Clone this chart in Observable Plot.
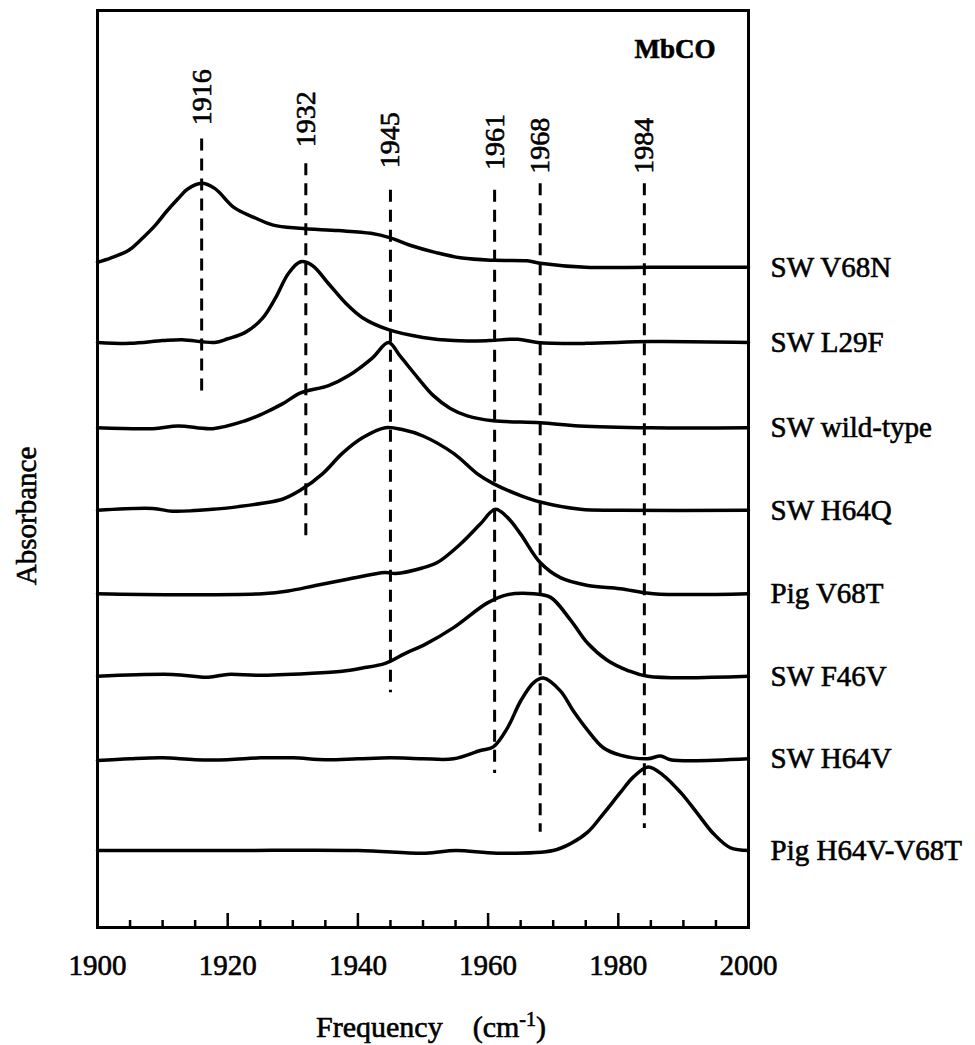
<!DOCTYPE html>
<html><head><meta charset="utf-8">
<script src="https://cdn.jsdelivr.net/npm/d3@7"></script>
<script src="https://cdn.jsdelivr.net/npm/@observablehq/plot@0.6"></script>
<style>html,body{margin:0;padding:0;background:#fff;overflow:hidden} svg{display:block} svg text{stroke:#000;stroke-width:0.6px}</style>
</head><body><div id="chart"></div>
<script>
// ---- data (frequency in cm-1, absorbance in arbitrary units above each trace's baseline) ----
const seriesNames = ["SW V68N","SW L29F","SW wild-type","SW H64Q","Pig V68T","SW F46V","SW H64V","Pig H64V-V68T"];
const offsets = [72.0, 63.8, 54.5, 45.5, 36.4, 27.4, 18.4, 8.4];

const fV68N = [1900,1902,1904.8,1906.5,1908.9,1910.5,1912.4,1913.8,1916,1918,1921,1924,1927,1931,1937,1942,1945,1948,1952,1956,1961,1966,1968,1975,1985,2000];
const aV68N = [0.55,1.0,1.85,2.9,4.6,6.0,7.5,8.5,9.16,8.6,6.5,5.45,4.6,4.25,4.0,3.7,3.2,2.4,1.6,1.0,0.76,0.7,0.44,0,0,0];

const fL29F = [1900,1905,1910,1913,1918,1920,1922.7,1925.3,1927.3,1929.3,1931.2,1933,1935.5,1938.1,1940.7,1944.7,1950,1954.7,1960,1964.5,1967.6,1975,1985,2000];
const aL29F = [0,-0.1,0.2,0.3,0,0.4,1.1,2.6,4.8,7.5,8.8,8.4,6.4,4.3,2.7,1.4,0.55,0.2,0.2,0.35,0,-0.1,0.1,0];

const fWT = [1900,1908.5,1912.4,1917.7,1922.7,1925.3,1928.4,1931.2,1935.5,1938.6,1942.2,1944.7,1946.5,1949.2,1951.6,1954.2,1956.8,1960.8,1968,1974,1985,2000];
const aWT = [0,-0.1,0.2,-0.1,0.76,1.5,2.6,3.8,4.6,5.7,7.6,9.3,7.8,5.45,3.5,2.1,1.3,0.76,0.55,0.2,0,0];

const fH64Q = [1900,1908.5,1911.5,1917.7,1921.7,1925.3,1928.4,1931.2,1934.6,1937.6,1940.7,1944.2,1946.8,1950,1954.7,1958.3,1960.8,1965,1968,1974.2,1980,2000];
const aH64Q = [0,0.2,-0.1,0.1,0.4,0.76,1.2,2.2,4.0,6.2,7.9,9.0,8.8,8.1,6.2,4.0,2.9,1.6,0.9,0.1,0,0];

const fV68T = [1900,1911.5,1925.3,1929.3,1933.5,1938.6,1944.2,1945.8,1949.9,1952.2,1955.8,1958.8,1961.1,1963,1965,1968,1971.1,1975.3,1980.3,1985.4,2000];
const aV68T = [0,-0.1,0,0.3,0.9,1.6,2.3,2.2,2.8,3.4,5.45,7.6,9.2,8.3,6.5,3.4,1.75,0.9,0.55,0,0];

const fF46V = [1900,1911.5,1917,1920,1924.7,1932.4,1937.6,1940.7,1944.2,1947.3,1950.4,1954.7,1959.9,1963,1967,1969.6,1972.7,1975.3,1978.3,1981.4,1984.5,2000];
const aF46V = [0,0.2,-0.1,0.2,0.1,0.3,0.55,0.9,1.4,2.5,3.5,5.3,8.0,8.9,9.0,8.6,6.1,3.6,1.75,0.65,0,0];

const fH64V = [1900,1905,1910,1915,1920,1925,1930,1935,1940,1945,1950,1954.7,1958.8,1960.8,1963,1965,1967,1968.5,1971.1,1973.1,1975.3,1977.7,1980.3,1984.5,1986.5,1988,2000];
const aH64V = [-0.2,0,0.1,-0.1,-0.1,0.1,0.1,-0.1,0,0.1,0,0,0.9,1.3,3.4,6.3,8.3,8.8,7.4,5.2,3.1,1.2,0.4,0,0.3,-0.1,0];

const fPig2 = [1900,1920,1940,1950.4,1955,1961.4,1970,1972.7,1975.3,1977.7,1980.3,1982.3,1984.6,1986.9,1989.6,1992.2,1994.6,1997.2,2000];
const aPig2 = [0,0,0,-0.3,0,-0.3,0,0.76,2.0,4.0,6.3,8.0,9.1,8.2,6.3,4.0,1.85,0.3,0];

const seriesFreqs = [fV68N,fL29F,fWT,fH64Q,fV68T,fF46V,fH64V,fPig2];
const seriesAbs   = [aV68N,aL29F,aWT,aH64Q,aV68T,aF46V,aH64V,aPig2];

// marked peak positions and the vertical extent of their dashed guides (same y units)
const peakFreqs  = [1916, 1932, 1945, 1961, 1968, 1984];
const peakTop    = [86.0, 83.3, 80.4, 80.4, 81.1, 81.1];
const peakBottom = [57.8, 42.5, 25.6, 16.8, 10.4, 10.8];
const peakLabelY = [87.5, 85.1, 82.8, 82.6, 82.2, 82.2];

const majorTicks = [1900, 1920, 1940, 1960, 1980, 2000];
const minorTicks = [1905,1910,1915,1925,1930,1935,1945,1950,1955,1965,1970,1975,1985,1990,1995];

const XLABEL = "Frequency (cm-1)";
const YLABEL = "Absorbance";
const TITLE = "MbCO";

// ---- build tables ----
const rows = [];
seriesNames.forEach((name, i) => {
  seriesFreqs[i].forEach((f, j) => rows.push({series: name, f, y: offsets[i] + seriesAbs[i][j]}));
});
const endLabels = seriesNames.map((name, i) => ({name, y: offsets[i] + seriesAbs[i][seriesAbs[i].length - 1]}));
const peaks = peakFreqs.map((f, i) => ({f, y1: peakTop[i], y2: peakBottom[i], ly: peakLabelY[i]}));

const W = 975, H = 1045, ML = 97, MR = 227, MT = 10, MB = 118;
const plotH = H - MT - MB;

const chart = Plot.plot({
  width: W, height: H,
  marginLeft: ML, marginRight: MR, marginTop: MT, marginBottom: MB,
  x: {domain: [1900, 2000]},
  y: {domain: [0, 100], axis: null},
  style: {fontFamily: "'Liberation Serif', 'Times New Roman', serif", fontSize: "29px", background: "white", color: "black", overflow: "hidden"},
  marks: [
    Plot.ruleX(peaks, {x: "f", y1: "y1", y2: "y2", stroke: "black", strokeWidth: 3, strokeDasharray: "12,8"}),
    Plot.line(rows, {x: "f", y: "y", z: "series", curve: "catmull-rom", stroke: "black", strokeWidth: 3.5}),
    Plot.frame({stroke: "black", strokeWidth: 3}),
    Plot.tickX(minorTicks, {x: d => d, insetTop: plotH - 7, stroke: "black", strokeWidth: 2.5}),
    Plot.tickX(majorTicks, {x: d => d, insetTop: plotH - 14, stroke: "black", strokeWidth: 2.5}),
    Plot.axisX(majorTicks, {tickSize: 0, tickPadding: 27, tickFormat: d => String(d), label: null, fontSize: 29}),
    Plot.text(peaks, {x: "f", y: "ly", text: d => String(d.f), rotate: -90, textAnchor: "start", lineAnchor: "middle", fontSize: 28}),
    Plot.text(endLabels, {x: 2000, y: "y", text: "name", dx: 22, textAnchor: "start", lineAnchor: "middle", fontSize: 29}),
    Plot.text([TITLE], {frameAnchor: "top-right", dx: -33, dy: 39, textAnchor: "end", lineAnchor: "middle", fontWeight: "bold", fontSize: 27}),
    Plot.text([YLABEL], {frameAnchor: "left", dx: -71, dy: 47, rotate: -90, textAnchor: "middle", lineAnchor: "middle", fontSize: 29}),
    Plot.text([XLABEL], {frameAnchor: "bottom", dx: 8, dy: 100, textAnchor: "middle", lineAnchor: "middle", fontSize: 30})
  ]
});

// superscript for the unit in the x label
d3.select(chart).selectAll("text").filter(function() { return this.textContent === XLABEL; }).each(function() {
  const t = d3.select(this);
  t.text(null);
  t.append("tspan").text("Frequency");
  t.append("tspan").attr("dx", 30).text("(cm");
  t.append("tspan").attr("dy", -11).attr("font-size", 20).text("-1");
  t.append("tspan").attr("dy", 11).text(")");
});

document.getElementById("chart").appendChild(chart);
</script></body></html>
